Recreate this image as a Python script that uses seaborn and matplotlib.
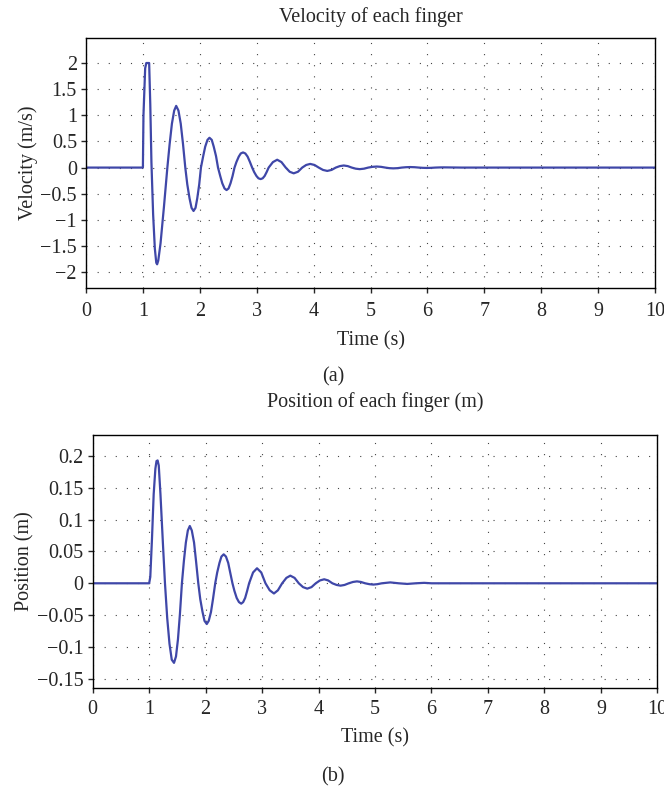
import numpy as np
import pandas as pd
import seaborn as sns
import matplotlib
matplotlib.use('Agg')
import matplotlib.pyplot as plt
from matplotlib.ticker import FuncFormatter

# velocity of each finger
t_vel = [0, 1.0, 1.01, 1.04, 1.06, 1.11, 1.13, 1.15, 1.18, 1.21, 1.235, 1.25, 1.27,
         1.31, 1.37, 1.43, 1.47, 1.51, 1.55, 1.585, 1.625, 1.665, 1.705, 1.745,
         1.78, 1.82, 1.855, 1.89, 1.925, 1.955, 1.99, 2.02, 2.06, 2.095, 2.135, 2.17,
         2.21, 2.245, 2.285, 2.32, 2.36, 2.395, 2.435, 2.47, 2.505, 2.54, 2.575, 2.61,
         2.645, 2.685, 2.72, 2.76, 2.80, 2.84, 2.88, 2.92, 2.955, 2.995, 3.03, 3.07,
         3.105, 3.14, 3.175, 3.21, 3.285, 3.36, 3.435, 3.51, 3.58, 3.65, 3.725, 3.80,
         3.87, 3.94, 4.015, 4.09, 4.165, 4.24, 4.315, 4.39, 4.46, 4.53, 4.60, 4.67,
         4.74, 4.81, 4.885, 4.96, 5.035, 5.11, 5.185, 5.26, 5.33, 5.40, 5.475, 5.55,
         5.625, 5.70, 5.775, 5.85, 5.92, 5.99, 6.065, 6.14, 6.215, 6.29, 6.6, 10]
v_vel = [0, 0, 1.0, 1.9, 2.0, 2.0, 1.2, 0.1, -0.9, -1.55, -1.82, -1.85, -1.78,
         -1.45, -0.75, 0, 0.45, 0.84, 1.09, 1.18, 1.09, 0.84, 0.45, 0,
         -0.32, -0.59, -0.77, -0.83, -0.77, -0.59, -0.32, 0, 0.22, 0.40, 0.53, 0.57,
         0.53, 0.40, 0.22, 0, -0.165, -0.30, -0.40, -0.43, -0.40, -0.30, -0.165, 0,
         0.11, 0.21, 0.27, 0.29, 0.27, 0.21, 0.11, 0, -0.085, -0.16, -0.205, -0.22,
         -0.205, -0.16, -0.085, 0, 0.105, 0.15, 0.105, 0, -0.08, -0.11, -0.08, 0,
         0.05, 0.07, 0.05, 0, -0.045, -0.064, -0.045, 0, 0.028, 0.04, 0.028, 0,
         -0.021, -0.03, -0.021, 0, 0.014, 0.02, 0.014, 0, -0.011, -0.015, -0.011, 0,
         0.007, 0.01, 0.007, 0, -0.005, -0.007, -0.005, 0, 0.003, 0.004, 0, 0]

# position of each finger
t_pos = [0, 1.0, 1.02, 1.05, 1.08, 1.11, 1.13, 1.15, 1.17, 1.20, 1.245, 1.28,
         1.32, 1.36, 1.40, 1.44, 1.475, 1.51, 1.545, 1.58, 1.615, 1.65, 1.685, 1.72,
         1.755, 1.795, 1.83, 1.87, 1.905, 1.945, 1.98, 2.02, 2.055, 2.095, 2.13, 2.17,
         2.205, 2.245, 2.28, 2.32, 2.36, 2.40, 2.435, 2.475, 2.51, 2.55, 2.59, 2.63,
         2.665, 2.70, 2.735, 2.77, 2.84, 2.91, 2.985, 3.06, 3.135, 3.21, 3.28, 3.355,
         3.43, 3.50, 3.575, 3.65, 3.725, 3.80, 3.875, 3.95, 4.025, 4.10, 4.17, 4.245,
         4.32, 4.39, 4.46, 4.535, 4.61, 4.68, 4.75, 4.825, 4.9, 4.97, 5.04, 5.12,
         5.27, 5.42, 5.57, 5.72, 5.87, 6.0, 10]
p_pos = [0, 0, 0.01, 0.07, 0.14, 0.18, 0.192, 0.193, 0.185, 0.14, 0.06, 0,
         -0.055, -0.095, -0.12, -0.125, -0.115, -0.088, -0.048, 0, 0.035, 0.064, 0.083, 0.090,
         0.083, 0.064, 0.035, 0, -0.025, -0.045, -0.059, -0.064, -0.059, -0.045, -0.025, 0,
         0.017, 0.032, 0.042, 0.0455, 0.042, 0.032, 0.017, 0, -0.012, -0.023, -0.0295, -0.032,
         -0.0295, -0.023, -0.012, 0, 0.017, 0.0236, 0.017, 0, -0.011, -0.016, -0.011, 0,
         0.0085, 0.012, 0.0085, 0, -0.006, -0.0084, -0.006, 0, 0.0045, 0.0063, 0.0045, 0,
         -0.0026, -0.0037, -0.0026, 0, 0.0021, 0.003, 0.0021, 0, -0.0014, -0.002, -0.0014, 0,
         0.0014, 0, -0.001, 0, 0.0007, 0, 0]

x_ticks = list(range(0, 11))
vel_ticks = [-2, -1.5, -1, -0.5, 0, 0.5, 1, 1.5, 2]
pos_ticks = [-0.15, -0.1, -0.05, 0, 0.05, 0.1, 0.15, 0.2]

sns.set_style('ticks')
plt.rcParams['font.family'] = ['Liberation Serif', 'DejaVu Serif']

line_c = '#3f47a8'
fmt = FuncFormatter(lambda v, p: ('%g' % v).replace('-', '\u2212'))

fig = plt.figure(figsize=(6.64, 7.9), dpi=100)
ax1 = fig.add_axes([0.1295, 0.635, 0.857, 0.317])
ax2 = fig.add_axes([0.1396, 0.1295, 0.8504, 0.3199])

df_v = pd.DataFrame({'t': t_vel, 'v': v_vel})
df_p = pd.DataFrame({'t': t_pos, 'p': p_pos})
sns.lineplot(data=df_v, x='t', y='v', ax=ax1, color=line_c, lw=1.6, sort=False)
sns.lineplot(data=df_p, x='t', y='p', ax=ax2, color=line_c, lw=1.6, sort=False)

fs = 14.5
for ax, yt, yl, title, tpad, xpad, ylab in [
        (ax1, vel_ticks, (-2.31, 2.48), 'Velocity of each finger', 11.5, 6.5, 'Velocity (m/s)'),
        (ax2, pos_ticks, (-0.164, 0.233), 'Position of each finger (m)', 20, 5, 'Position (m)')]:
    ax.set_xlim(0, 10)
    ax.set_ylim(*yl)
    ax.set_xticks(x_ticks)
    ax.set_yticks(yt)
    ax.yaxis.set_major_formatter(fmt)
    ax.grid(True, color='#444444', linestyle=(0, (1, 9)), linewidth=0.8)
    ax.tick_params(direction='out', length=3.5, width=1, labelsize=fs, pad=3)
    ax.tick_params(axis='x', pad=xpad)
    for s in ax.spines.values():
        s.set_linewidth(1.0)
        s.set_color('black')
    ax.set_title(title, fontsize=fs, pad=tpad)
    ax.set_xlabel('Time (s)', fontsize=fs, labelpad=7)
    ax.set_ylabel(ylab, fontsize=fs, labelpad=2)

fig.text(0.5015, 1 - 377 / 790, '(a)', ha='center', va='center', fontsize=fs)
fig.text(0.5015, 1 - 777 / 790, '(b)', ha='center', va='center', fontsize=fs)

fig.savefig('out.png', dpi=100)
